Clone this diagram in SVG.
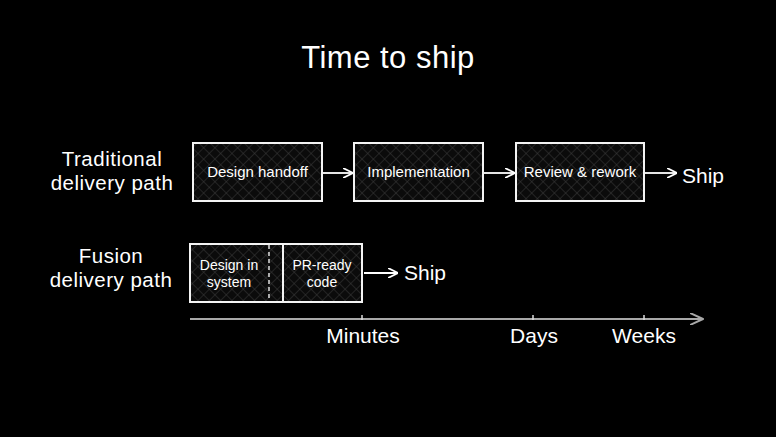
<svg xmlns="http://www.w3.org/2000/svg" width="776" height="437" viewBox="0 0 776 437">
<defs>
<pattern id="hatch" width="8" height="8" patternUnits="userSpaceOnUse" patternTransform="rotate(45)">
<rect width="8" height="8" fill="#0b0b0b"/>
<path d="M0 0 V8 M0 0 H8" stroke="#3c3c3c" stroke-width="1"/>
</pattern>
<marker id="arr" viewBox="0 0 10 10" refX="9" refY="5" markerWidth="10" markerHeight="10" markerUnits="userSpaceOnUse" orient="auto">
<path d="M0 0 L10 5 L0 10" fill="none" stroke="#ffffff" stroke-width="1.8" stroke-linecap="round" stroke-linejoin="round"/>
</marker>
<marker id="arrg" viewBox="0 0 14 12" refX="13" refY="6" markerWidth="14" markerHeight="12" markerUnits="userSpaceOnUse" orient="auto">
<path d="M0 0 L13 6 L0 12" fill="none" stroke="#a8a8a8" stroke-width="2" stroke-linecap="round" stroke-linejoin="round"/>
</marker>
</defs>
<style>
text{font-family:"Liberation Sans","DejaVu Sans",sans-serif;fill:#ffffff;text-anchor:middle}
.box{fill:url(#hatch);stroke:#f4f4f4;stroke-width:2}
.bt{font-size:15px}
.st{font-size:14px}
.lbl{font-size:20.5px;letter-spacing:0.5px}
.ship{font-size:21px;text-anchor:start}
.ax{font-size:21px}
.con{stroke:#ffffff;stroke-width:1.8;fill:none;marker-end:url(#arr)}
</style>
<rect width="776" height="437" fill="#000000"/>
<text x="388" y="68" style="font-size:31px;letter-spacing:0.5px">Time to ship</text>

<g id="label-traditional">
<text class="lbl" x="112" y="166">Traditional</text>
<text class="lbl" x="112" y="190">delivery path</text>
</g>
<g id="design-handoff">
<rect class="box" x="193" y="143" width="129" height="58"/>
<text class="bt" x="257.5" y="177">Design handoff</text>
</g>
<g id="implementation">
<rect class="box" x="354" y="143" width="129" height="58"/>
<text class="bt" x="418.5" y="177">Implementation</text>
</g>
<g id="review-rework">
<rect class="box" x="516" y="143" width="128" height="58"/>
<text class="bt" x="580" y="177">Review &amp; rework</text>
</g>
<g id="ship-1">
<text class="ship" x="682" y="183">Ship</text>
</g>

<g id="label-fusion">
<text class="lbl" x="111" y="263">Fusion</text>
<text class="lbl" x="111" y="287">delivery path</text>
</g>
<g id="fusion-block">
<rect class="box" x="190" y="244" width="172" height="58"/>
<line x1="283" y1="244" x2="283" y2="302" stroke="#f4f4f4" stroke-width="2"/>
<line x1="269" y1="245" x2="269" y2="301" stroke="#eeeeee" stroke-width="1.4" stroke-dasharray="4 3"/>
</g>
<g id="design-in-system">
<text class="st" x="229" y="270">Design in</text>
<text class="st" x="229" y="287">system</text>
</g>
<g id="pr-ready-code">
<text class="st" x="322" y="270">PR-ready</text>
<text class="st" x="322" y="287">code</text>
</g>
<g id="ship-2">
<text class="ship" x="404" y="280">Ship</text>
</g>

<g id="connectors">
<line class="con" x1="323" y1="173" x2="352" y2="173"/>
<line class="con" x1="484" y1="173" x2="514" y2="173"/>
<line class="con" x1="645" y1="173" x2="676" y2="173"/>
<line class="con" x1="364" y1="273" x2="397" y2="273"/>
</g>

<g id="time-axis">
<line x1="190" y1="319" x2="703" y2="319" stroke="#a8a8a8" stroke-width="2" marker-end="url(#arrg)"/>
<line x1="362" y1="315" x2="362" y2="320" stroke="#dddddd" stroke-width="1.5"/>
<line x1="533" y1="315" x2="533" y2="320" stroke="#dddddd" stroke-width="1.5"/>
<line x1="644" y1="315" x2="644" y2="320" stroke="#dddddd" stroke-width="1.5"/>
<text class="ax" x="363" y="343">Minutes</text>
<text class="ax" x="534" y="343">Days</text>
<text class="ax" x="644" y="343">Weeks</text>
</g>
</svg>
